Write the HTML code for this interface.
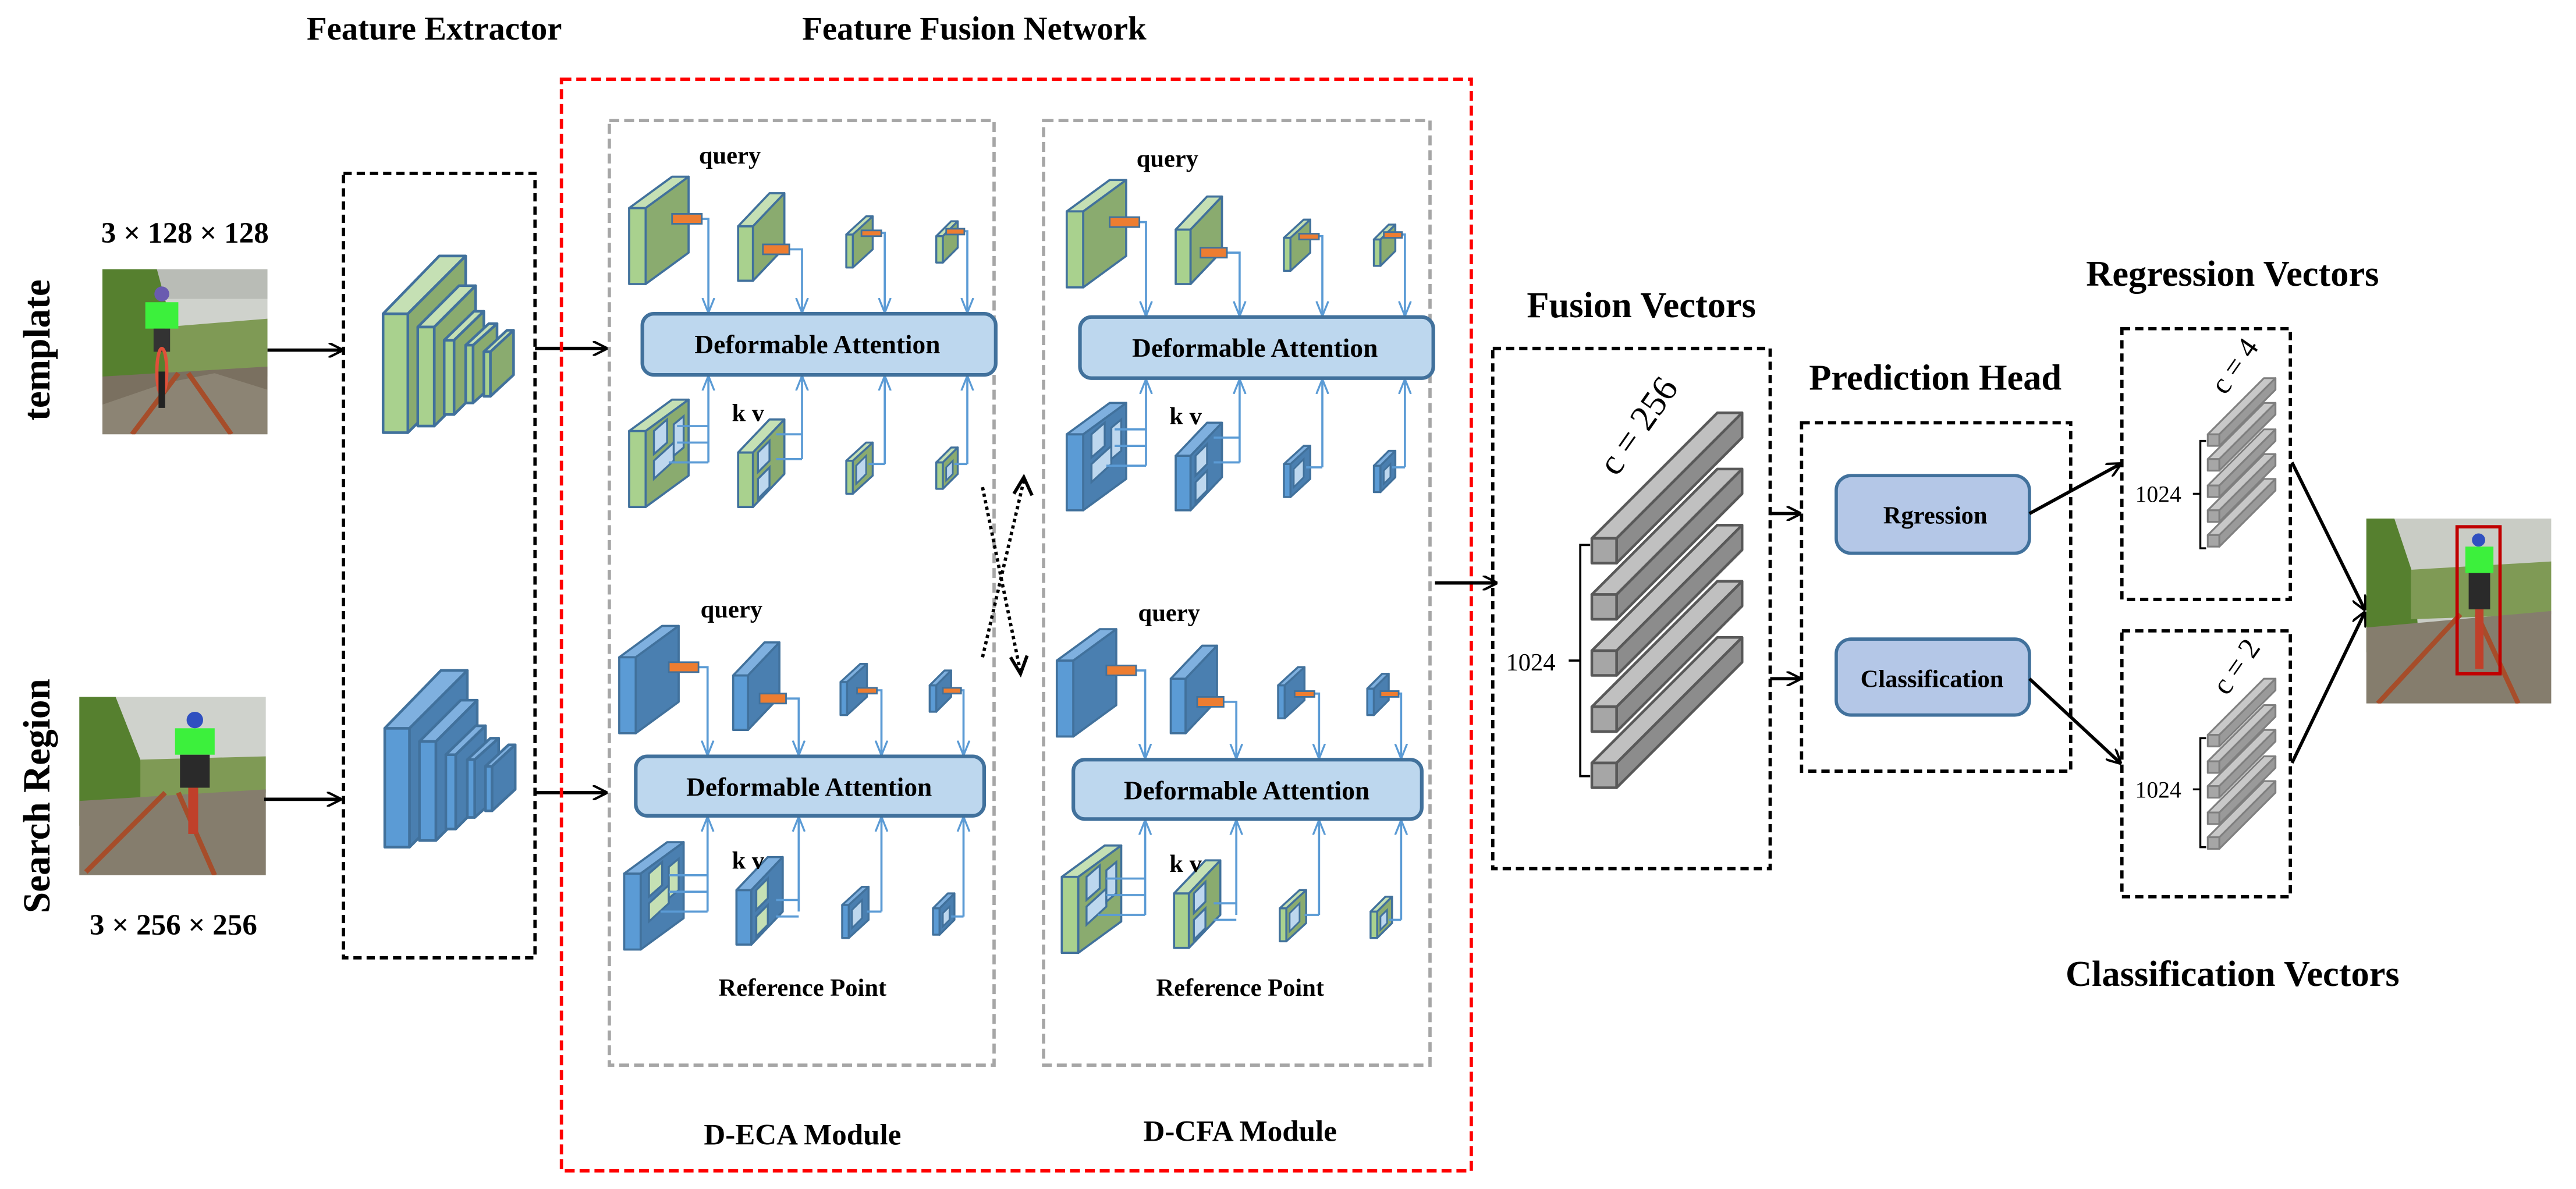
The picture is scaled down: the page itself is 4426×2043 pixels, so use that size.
<!DOCTYPE html>
<html><head><meta charset="utf-8"><style>
html,body{margin:0;padding:0;background:#fff;}
svg{display:block;}
text{font-family:"Liberation Serif",serif;font-weight:bold;fill:#000;}
</style></head><body>
<svg xmlns="http://www.w3.org/2000/svg" width="4426" height="2043" viewBox="0 0 1560 720" preserveAspectRatio="none">
<defs>
<marker id="ah" viewBox="0 0 10 10" refX="9" refY="5" markerWidth="9" markerHeight="9" orient="auto" markerUnits="userSpaceOnUse"><path d="M0,0 L10,5 L0,10" fill="none" stroke="#000" stroke-width="1.6"/></marker>
<marker id="bh" viewBox="0 0 10 10" refX="9.5" refY="5" markerWidth="9" markerHeight="9" orient="auto" markerUnits="userSpaceOnUse"><path d="M0,1 L10,5 L0,9" fill="none" stroke="#5b9bd5" stroke-width="1.3"/></marker>
<g id="g1" stroke="#41719c" stroke-width="1.3" stroke-linejoin="round"><rect x="0" y="0" width="10" height="46" fill="#a9d18e"/><polygon points="0,0 26,-19 36,-19 10,0" fill="#c5e0b4"/><polygon points="10,0 36,-19 36,27 10,46" fill="#8aab6f"/></g>
<g id="g2" stroke="#41719c" stroke-width="1.3" stroke-linejoin="round"><rect x="0" y="0" width="9" height="33" fill="#a9d18e"/><polygon points="0,0 19,-20 28,-20 9,0" fill="#c5e0b4"/><polygon points="9,0 28,-20 28,13 9,33" fill="#8aab6f"/></g>
<g id="g3" stroke="#41719c" stroke-width="1.2" stroke-linejoin="round"><rect x="0" y="0" width="4" height="20" fill="#a9d18e"/><polygon points="0,0 12,-11 16,-11 4,0" fill="#c5e0b4"/><polygon points="4,0 16,-11 16,9 4,20" fill="#8aab6f"/></g>
<g id="g4" stroke="#41719c" stroke-width="1.2" stroke-linejoin="round"><rect x="0" y="0" width="4" height="16" fill="#a9d18e"/><polygon points="0,0 9,-9 13,-9 4,0" fill="#c5e0b4"/><polygon points="4,0 13,-9 13,7 4,16" fill="#8aab6f"/></g>
<g id="b1" stroke="#41719c" stroke-width="1.3" stroke-linejoin="round"><rect x="0" y="0" width="10" height="46" fill="#5b9bd5"/><polygon points="0,0 26,-19 36,-19 10,0" fill="#7fb0df"/><polygon points="10,0 36,-19 36,27 10,46" fill="#4a7fb0"/></g>
<g id="b2" stroke="#41719c" stroke-width="1.3" stroke-linejoin="round"><rect x="0" y="0" width="9" height="33" fill="#5b9bd5"/><polygon points="0,0 19,-20 28,-20 9,0" fill="#7fb0df"/><polygon points="9,0 28,-20 28,13 9,33" fill="#4a7fb0"/></g>
<g id="b3" stroke="#41719c" stroke-width="1.2" stroke-linejoin="round"><rect x="0" y="0" width="4" height="20" fill="#5b9bd5"/><polygon points="0,0 12,-11 16,-11 4,0" fill="#7fb0df"/><polygon points="4,0 16,-11 16,9 4,20" fill="#4a7fb0"/></g>
<g id="b4" stroke="#41719c" stroke-width="1.2" stroke-linejoin="round"><rect x="0" y="0" width="4" height="16" fill="#5b9bd5"/><polygon points="0,0 9,-9 13,-9 4,0" fill="#7fb0df"/><polygon points="4,0 13,-9 13,7 4,16" fill="#4a7fb0"/></g>
<g id="p1" stroke="#41719c" stroke-width="1.2"><polygon points="15,0 23,-7 23,7 15,14" fill="#bdd7ee"/><polygon points="15,18 27,7 27,18 15,29" fill="#bdd7ee"/><polygon points="27,-4 33,-9 33,10 27,15" fill="#bdd7ee"/></g>
<g id="p2" stroke="#41719c" stroke-width="1.2"><polygon points="12,0 19,-7 19,5 12,12" fill="#bdd7ee"/><polygon points="12,16 19,9 19,21 12,28" fill="#bdd7ee"/></g>
<g id="p3" stroke="#41719c" stroke-width="1"><polygon points="6,3 12,-3 12,8 6,14" fill="#bdd7ee"/></g>
<g id="p4" stroke="#41719c" stroke-width="1"><polygon points="6,3 10,-1 10,7 6,11" fill="#bdd7ee"/></g>
<g id="q1" stroke="#41719c" stroke-width="1.2"><polygon points="15,0 23,-7 23,7 15,14" fill="#c5e0b4"/><polygon points="15,18 27,7 27,18 15,29" fill="#c5e0b4"/><polygon points="27,-4 33,-9 33,10 27,15" fill="#c5e0b4"/></g>
<g id="q2" stroke="#41719c" stroke-width="1.2"><polygon points="12,0 19,-7 19,5 12,12" fill="#c5e0b4"/><polygon points="12,16 19,9 19,21 12,28" fill="#c5e0b4"/></g>
<g id="fb" stroke="#595959" stroke-width="1.6" stroke-linejoin="round"><polygon points="0,0 76,-76 91,-76 15,0" fill="#c0c0c0"/><polygon points="15,0 91,-76 91,-61 15,15" fill="#8c8c8c"/><rect x="0" y="0" width="15" height="15" fill="#a6a6a6"/></g>
<g id="sb" stroke="#7f7f7f" stroke-width="1.1" stroke-linejoin="round"><polygon points="0,0 34,-34 41,-34 7,0" fill="#c8c8c8"/><polygon points="7,0 41,-34 41,-27 7,7" fill="#9a9a9a"/><rect x="0" y="0" width="7" height="7" fill="#a6a6a6"/></g>
<g id="conn" fill="none" stroke="#5b9bd5" stroke-width="1.3">
 <path d="M425,132.5 H429 V189" marker-end="url(#bh)"/>
 <path d="M478,151 H485.7 V189" marker-end="url(#bh)"/>
 <path d="M533.5,141 H535.8 V189" marker-end="url(#bh)"/>
 <path d="M584,140 H585.8 V189" marker-end="url(#bh)"/>
 <path d="M429,280 V228" marker-end="url(#bh)"/>
 <path d="M410,258 H429 M410,268 H429 M405,280 H429"/>
 <path d="M485.7,278 V228" marker-end="url(#bh)"/>
 <path d="M470,263 H485.7 M470,278 H485.7"/>
 <path d="M535.8,281 V228" marker-end="url(#bh)"/>
 <path d="M526,281 H535.8"/>
 <path d="M585.8,281 V228" marker-end="url(#bh)"/>
 <path d="M578,281 H585.8"/>
 <path d="M423,404 H428.5 V457" marker-end="url(#bh)"/>
 <path d="M476,423 H483.7 V457" marker-end="url(#bh)"/>
 <path d="M531,418 H533.8 V457" marker-end="url(#bh)"/>
 <path d="M582,418 H583.5 V457" marker-end="url(#bh)"/>
 <path d="M428.5,552 V495" marker-end="url(#bh)"/>
 <path d="M405,530 H428.5 M405,540 H428.5 M400,552 H428.5"/>
 <path d="M483.7,552 V495" marker-end="url(#bh)"/>
 <path d="M470,545 H483.7 M470,555 H483.7"/>
 <path d="M533.8,552 V495" marker-end="url(#bh)"/>
 <path d="M525,552 H533.8"/>
 <path d="M583.5,555 V495" marker-end="url(#bh)"/>
 <path d="M576,555 H583.5"/>
</g>
<g id="bars" fill="#ed7d31" stroke="#41719c" stroke-width="1">
 <rect x="407" y="129.5" width="18" height="6"/>
 <rect x="462" y="148" width="16" height="6"/>
 <rect x="521.7" y="139.5" width="12" height="3.5"/>
 <rect x="573" y="138.5" width="11" height="3.5"/>
 <rect x="405" y="401" width="18" height="6"/>
 <rect x="460" y="420" width="16" height="6"/>
 <rect x="519" y="416.5" width="12" height="3.5"/>
 <rect x="571" y="416.5" width="11" height="3.5"/>
</g>
<g id="da">
 <rect x="389" y="190" width="214" height="37" rx="7" fill="#bdd7ee" stroke="#41719c" stroke-width="2.2"/>
 <rect x="385" y="458" width="211" height="36" rx="7" fill="#bdd7ee" stroke="#41719c" stroke-width="2.2"/>
</g>
</defs>

<text x="263" y="24" font-size="20" text-anchor="middle">Feature Extractor</text>
<text x="590" y="24" font-size="20" text-anchor="middle">Feature Fusion Network</text>

<text x="112" y="147" font-size="18" text-anchor="middle">3 × 128 × 128</text>
<text x="105" y="566" font-size="18" text-anchor="middle">3 × 256 × 256</text>
<text transform="translate(30,212) rotate(-90)" font-size="23" text-anchor="middle">template</text>
<text transform="translate(30,482) rotate(-90)" font-size="23" text-anchor="middle">Search Region</text>

<g>
<clipPath id="c1"><rect x="62" y="163" width="100" height="100"/></clipPath>
<g clip-path="url(#c1)">
<rect x="62" y="163" width="100" height="100" fill="#cfd2cc"/>
<rect x="62" y="163" width="100" height="18" fill="#b9bcb6"/>
<polygon points="62,163 95,163 105,200 110,235 62,245" fill="#56802f"/>
<polygon points="100,198 162,193 162,228 100,228" fill="#7f9a55"/>
<polygon points="62,228 162,222 162,263 62,263" fill="#7a7060"/>
<polygon points="62,245 100,232 130,226 162,236 162,263 62,263" fill="#8c8474"/>
<line x1="80" y1="263" x2="108" y2="226" stroke="#a64d2a" stroke-width="3"/>
<line x1="140" y1="263" x2="114" y2="226" stroke="#a64d2a" stroke-width="3"/>
<circle cx="98" cy="178" r="4.5" fill="#6a5bb0"/>
<rect x="88" y="183" width="20" height="16" fill="#3cf03c"/>
<rect x="93" y="199" width="10" height="14" fill="#333"/>
<ellipse cx="98" cy="225" rx="3" ry="14" fill="none" stroke="#e0503a" stroke-width="2"/>
<rect x="96" y="225" width="4" height="22" fill="#222"/>
</g></g>

<g>
<clipPath id="c2"><rect x="48" y="422" width="113" height="108"/></clipPath>
<g clip-path="url(#c2)">
<rect x="48" y="422" width="113" height="108" fill="#cfd2cc"/>
<polygon points="48,422 70,422 85,460 90,500 48,500" fill="#56802f"/>
<polygon points="85,460 161,458 161,480 85,485" fill="#7f9a55"/>
<polygon points="48,485 161,478 161,530 48,530" fill="#857d6d"/>
<line x1="52" y1="528" x2="100" y2="480" stroke="#a64d2a" stroke-width="3"/>
<line x1="130" y1="530" x2="108" y2="480" stroke="#a64d2a" stroke-width="3"/>
<circle cx="118" cy="436" r="5" fill="#3050c0"/>
<rect x="106" y="441" width="24" height="16" fill="#3cf03c"/>
<rect x="109" y="457" width="18" height="20" fill="#2a2a2a"/>
<rect x="114" y="477" width="6" height="28" fill="#c0402a"/>
</g></g>

<g stroke="#000" stroke-width="2" fill="none">
<line x1="162" y1="212" x2="207" y2="212" marker-end="url(#ah)"/>
<line x1="160" y1="484" x2="206" y2="484" marker-end="url(#ah)"/>
<line x1="324" y1="211" x2="367" y2="211" marker-end="url(#ah)"/>
<line x1="324" y1="480" x2="367" y2="480" marker-end="url(#ah)"/>
</g>

<rect x="208" y="105" width="116" height="475" fill="none" stroke="#000" stroke-width="2" stroke-dasharray="5,3"/>

<g stroke="#41719c" stroke-width="1.6" stroke-linejoin="round">
<g><rect x="232" y="190" width="15" height="72" fill="#a9d18e"/><polygon points="232,190 266,155 282,155 247,190" fill="#c5e0b4"/><polygon points="247,190 282,155 282,227 247,262" fill="#8aab6f"/></g>
<g><rect x="253" y="198" width="10" height="60" fill="#a9d18e"/><polygon points="253,198 278,173 288,173 263,198" fill="#c5e0b4"/><polygon points="263,198 288,173 288,233 263,258" fill="#8aab6f"/></g>
<g><rect x="269" y="206" width="6" height="45" fill="#a9d18e"/><polygon points="269,206 287,188.5 293,188.5 275,206" fill="#c5e0b4"/><polygon points="275,206 293,188.5 293,233 275,251" fill="#8aab6f"/></g>
<g><rect x="282" y="209" width="4.5" height="35" fill="#a9d18e"/><polygon points="282,209 296,196 301,196 286.5,209" fill="#c5e0b4"/><polygon points="286.5,209 301,196 301,231 286.5,244" fill="#8aab6f"/></g>
<g><rect x="293" y="213" width="4" height="27" fill="#a9d18e"/><polygon points="293,213 307,200 311,200 297,213" fill="#c5e0b4"/><polygon points="297,213 311,200 311,227 297,240" fill="#8aab6f"/></g>
</g>
<g transform="translate(1,251)" stroke="#41719c" stroke-width="1.6" stroke-linejoin="round">
<g><rect x="232" y="190" width="15" height="72" fill="#5b9bd5"/><polygon points="232,190 266,155 282,155 247,190" fill="#7fb0df"/><polygon points="247,190 282,155 282,227 247,262" fill="#4a7fb0"/></g>
<g><rect x="253" y="198" width="10" height="60" fill="#5b9bd5"/><polygon points="253,198 278,173 288,173 263,198" fill="#7fb0df"/><polygon points="263,198 288,173 288,233 263,258" fill="#4a7fb0"/></g>
<g><rect x="269" y="206" width="6" height="45" fill="#5b9bd5"/><polygon points="269,206 287,188.5 293,188.5 275,206" fill="#7fb0df"/><polygon points="275,206 293,188.5 293,233 275,251" fill="#4a7fb0"/></g>
<g><rect x="282" y="209" width="4.5" height="35" fill="#5b9bd5"/><polygon points="282,209 296,196 301,196 286.5,209" fill="#7fb0df"/><polygon points="286.5,209 301,196 301,231 286.5,244" fill="#4a7fb0"/></g>
<g><rect x="293" y="213" width="4" height="27" fill="#5b9bd5"/><polygon points="293,213 307,200 311,200 297,213" fill="#7fb0df"/><polygon points="297,213 311,200 311,227 297,240" fill="#4a7fb0"/></g>
</g>

<rect x="340" y="48" width="551" height="661" fill="none" stroke="#ff0000" stroke-width="2" stroke-dasharray="6,3"/>
<rect x="369" y="73" width="233" height="572" fill="none" stroke="#a6a6a6" stroke-width="2" stroke-dasharray="6,3"/>
<rect x="632" y="73" width="234" height="572" fill="none" stroke="#a6a6a6" stroke-width="2" stroke-dasharray="6,3"/>

<g>
<use href="#g1" x="381" y="126"/><use href="#g2" x="447" y="137"/><use href="#g3" x="512.5" y="142"/><use href="#g4" x="567" y="143"/>
<use href="#g1" x="381" y="261"/><use href="#p1" x="381" y="261"/>
<use href="#g2" x="447" y="274"/><use href="#p2" x="447" y="274"/>
<use href="#g3" x="512.5" y="279"/><use href="#p3" x="512.5" y="279"/>
<use href="#g4" x="567" y="280"/><use href="#p4" x="567" y="280"/>
<use href="#b1" x="375" y="398"/><use href="#b2" x="444" y="409"/><use href="#b3" x="509" y="413"/><use href="#b4" x="563" y="415"/>
<use href="#b1" x="378" y="529"/><use href="#q1" x="378" y="529"/>
<use href="#b2" x="446" y="539"/><use href="#q2" x="446" y="539"/>
<use href="#b3" x="510" y="548"/><use href="#p3" x="510" y="548"/>
<use href="#b4" x="565" y="550"/><use href="#p4" x="565" y="550"/>
<use href="#conn"/><use href="#bars"/><use href="#da"/>
<text x="442" y="99" font-size="15" text-anchor="middle">query</text>
<text x="453" y="255" font-size="15" text-anchor="middle">k v</text>
<text x="443" y="374" font-size="15" text-anchor="middle">query</text>
<text x="453" y="526" font-size="15" text-anchor="middle">k v</text>
<text x="495" y="214" font-size="16" text-anchor="middle">Deformable Attention</text>
<text x="490" y="482" font-size="16" text-anchor="middle">Deformable Attention</text>
<text x="486" y="603" font-size="15" text-anchor="middle">Reference Point</text>
</g>

<g transform="translate(265,2)">
<use href="#g1" x="381" y="126"/><use href="#g2" x="447" y="137"/><use href="#g3" x="512.5" y="142"/><use href="#g4" x="567" y="143"/>
<use href="#b1" x="381" y="261"/><use href="#p1" x="381" y="261"/>
<use href="#b2" x="447" y="274"/><use href="#p2" x="447" y="274"/>
<use href="#b3" x="512.5" y="279"/><use href="#p3" x="512.5" y="279"/>
<use href="#b4" x="567" y="280"/><use href="#p4" x="567" y="280"/>
<use href="#b1" x="375" y="398"/><use href="#b2" x="444" y="409"/><use href="#b3" x="509" y="413"/><use href="#b4" x="563" y="415"/>
<use href="#g1" x="378" y="529"/><use href="#p1" x="378" y="529"/>
<use href="#g2" x="446" y="539"/><use href="#p2" x="446" y="539"/>
<use href="#g3" x="510" y="548"/><use href="#p3" x="510" y="548"/>
<use href="#g4" x="565" y="550"/><use href="#p4" x="565" y="550"/>
<use href="#conn"/><use href="#bars"/><use href="#da"/>
<text x="442" y="99" font-size="15" text-anchor="middle">query</text>
<text x="453" y="255" font-size="15" text-anchor="middle">k v</text>
<text x="443" y="374" font-size="15" text-anchor="middle">query</text>
<text x="453" y="526" font-size="15" text-anchor="middle">k v</text>
<text x="495" y="214" font-size="16" text-anchor="middle">Deformable Attention</text>
<text x="490" y="482" font-size="16" text-anchor="middle">Deformable Attention</text>
<text x="486" y="601" font-size="15" text-anchor="middle">Reference Point</text>
</g>

<text x="486" y="693" font-size="18" text-anchor="middle">D-ECA Module</text>
<text x="751" y="691" font-size="18" text-anchor="middle">D-CFA Module</text>

<g stroke="#000" stroke-width="2" fill="none" stroke-dasharray="2,2">
<line x1="595" y1="295" x2="618" y2="407"/>
<line x1="595" y1="398" x2="620" y2="291"/>
</g>
<g stroke="#000" stroke-width="2" fill="none">
<path d="M612,398 L618,408 L622,397"/>
<path d="M614,299 L620,289 L625,300"/>
</g>

<line x1="869" y1="353" x2="906" y2="353" stroke="#000" stroke-width="2" marker-end="url(#ah)"/>

<text x="994" y="192" font-size="22" text-anchor="middle">Fusion Vectors</text>
<rect x="904" y="211" width="168" height="315" fill="none" stroke="#000" stroke-width="2" stroke-dasharray="5,3"/>
<use href="#fb" x="964" y="326"/><use href="#fb" x="964" y="360"/><use href="#fb" x="964" y="394"/><use href="#fb" x="964" y="428"/><use href="#fb" x="964" y="462"/>
<path d="M963,330 H957 V470 H963 M957,400 H950" fill="none" stroke="#000" stroke-width="1.3"/>
<text x="912" y="406" font-size="15" style="font-weight:normal">1024</text>
<text transform="translate(998,262) rotate(-55)" font-size="22" text-anchor="middle" style="font-weight:normal">c = 256</text>

<text x="1172" y="236" font-size="22" text-anchor="middle">Prediction Head</text>
<rect x="1091" y="256" width="163" height="211" fill="none" stroke="#000" stroke-width="2" stroke-dasharray="5,3"/>
<rect x="1112" y="288" width="117" height="47" rx="9" fill="#b4c7e7" stroke="#41719c" stroke-width="2"/>
<rect x="1112" y="387" width="117" height="46" rx="9" fill="#b4c7e7" stroke="#41719c" stroke-width="2"/>
<text x="1172" y="317" font-size="15" text-anchor="middle">Rgression</text>
<text x="1170" y="416" font-size="15" text-anchor="middle">Classification</text>
<g stroke="#000" stroke-width="2" fill="none">
<line x1="1072" y1="311" x2="1090" y2="311" marker-end="url(#ah)"/>
<line x1="1072" y1="411" x2="1090" y2="411" marker-end="url(#ah)"/>
<line x1="1229" y1="311" x2="1284" y2="281" marker-end="url(#ah)"/>
<line x1="1229" y1="411" x2="1284" y2="462" marker-end="url(#ah)"/>
<line x1="1388" y1="280" x2="1432" y2="369" marker-end="url(#ah)"/>
<line x1="1388" y1="462" x2="1432" y2="371" marker-end="url(#ah)"/>
</g>

<text x="1352" y="173" font-size="22" text-anchor="middle">Regression Vectors</text>
<text x="1352" y="597" font-size="22" text-anchor="middle">Classification Vectors</text>
<rect x="1285" y="199" width="102" height="164" fill="none" stroke="#000" stroke-width="2" stroke-dasharray="5,3"/>
<rect x="1285" y="382" width="102" height="161" fill="none" stroke="#000" stroke-width="2" stroke-dasharray="5,3"/>
<use href="#sb" x="1337" y="263"/><use href="#sb" x="1337" y="278"/><use href="#sb" x="1337" y="294"/><use href="#sb" x="1337" y="309"/><use href="#sb" x="1337" y="324"/>
<use href="#sb" x="1337" y="445"/><use href="#sb" x="1337" y="461"/><use href="#sb" x="1337" y="476"/><use href="#sb" x="1337" y="492"/><use href="#sb" x="1337" y="507"/>
<path d="M1336,267 H1332.5 V332 H1336 M1332.5,299 H1328" fill="none" stroke="#000" stroke-width="1.2"/>
<path d="M1336,447 H1332.5 V513 H1336 M1332.5,478 H1328" fill="none" stroke="#000" stroke-width="1.2"/>
<text x="1293" y="304" font-size="14" style="font-weight:normal">1024</text>
<text x="1293" y="483" font-size="14" style="font-weight:normal">1024</text>
<text transform="translate(1358,225) rotate(-55)" font-size="18" text-anchor="middle" style="font-weight:normal">c = 4</text>
<text transform="translate(1359,407) rotate(-55)" font-size="18" text-anchor="middle" style="font-weight:normal">c = 2</text>

<g>
<clipPath id="c3"><rect x="1433" y="314" width="112" height="112"/></clipPath>
<g clip-path="url(#c3)">
<rect x="1433" y="314" width="112" height="112" fill="#c9ccc5"/>
<polygon points="1433,314 1450,314 1462,350 1465,390 1433,395" fill="#56802f"/>
<polygon points="1460,345 1545,340 1545,372 1460,375" fill="#7f9a55"/>
<polygon points="1433,380 1545,370 1545,426 1433,426" fill="#857d6d"/>
<line x1="1440" y1="426" x2="1490" y2="372" stroke="#a64d2a" stroke-width="3"/>
<line x1="1525" y1="426" x2="1500" y2="372" stroke="#a64d2a" stroke-width="3"/>
<circle cx="1501" cy="327" r="4" fill="#3050c0"/>
<rect x="1493" y="331" width="17" height="16" fill="#3cf03c"/>
<rect x="1495" y="347" width="13" height="22" fill="#2a2a2a"/>
<rect x="1499" y="369" width="5" height="36" fill="#c0402a"/>
</g>
<rect x="1488" y="319" width="26" height="89" fill="none" stroke="#c00000" stroke-width="2"/>
</g>
</svg>
</body></html>
